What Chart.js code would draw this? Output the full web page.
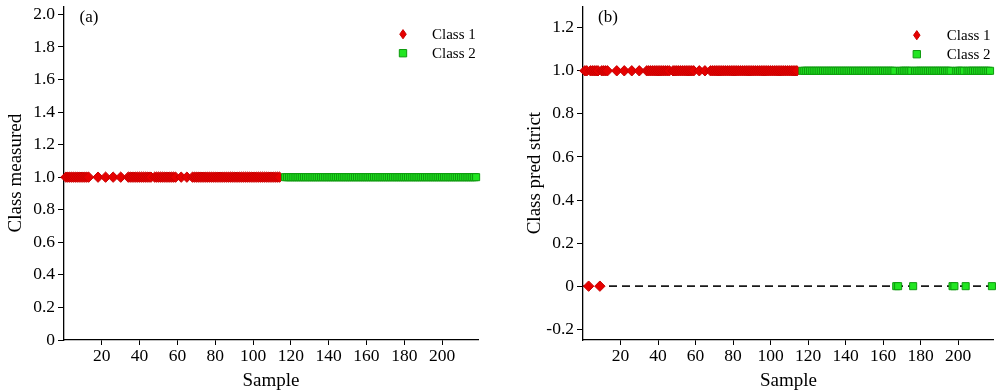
<!DOCTYPE html>
<html>
<head>
<meta charset="utf-8">
<script src="https://cdn.jsdelivr.net/npm/chart.js@4.4.1/dist/chart.umd.min.js"></script>
<style>
  html, body { margin: 0; padding: 0; background: #fff; }
  #wrap { display: flex; width: 1000px; height: 392px; }
  canvas { display: block; }
</style>
</head>
<body>
<div id="wrap">
  <canvas id="chartA" width="500" height="392"></canvas>
  <canvas id="chartB" width="500" height="392"></canvas>
</div>
<script>
// sample numbers of each class
const class1Samples = [
  1, 2, 3, 4, 5, 6, 7, 8, 9, 10, 11, 12, 13,
  18, 22, 26, 30,
  34, 35, 36, 37, 38, 39, 40, 41, 42, 43, 44, 45, 46,
  48, 49, 50, 51, 52, 53, 54, 55, 56, 57, 58, 59,
  62, 65,
  68, 69, 70, 71, 72, 73, 74, 75, 76, 77, 78, 79, 80, 81, 82, 83, 84, 85, 86, 87,
  88, 89, 90, 91, 92, 93, 94, 95, 96, 97, 98, 99, 100, 101, 102, 103, 104, 105,
  106, 107, 108, 109, 110, 111, 112, 113, 114
];
const class2Samples = [
  117, 118, 119, 120, 121, 122, 123, 124, 125, 126, 127, 128, 129, 130,
  131, 132, 133, 134, 135, 136, 137, 138, 139, 140, 141, 142, 143, 144, 145, 146,
  147, 148, 149, 150, 151, 152, 153, 154, 155, 156, 157, 158, 159, 160, 161, 162,
  163, 164, 165, 166, 167, 168, 169, 170, 171, 172, 173, 174, 175, 176, 177, 178,
  179, 180, 181, 182, 183, 184, 185, 186, 187, 188, 189, 190, 191, 192, 193, 194,
  195, 196, 197, 198, 199, 200, 201, 202, 203, 204, 205, 206, 207, 208, 209, 210,
  211, 212, 213, 214, 215, 216, 217, 218
];
// measured class value plotted for every sample in panel (a)
const measuredValue = 1;
// samples whose strict prediction is 0 in panel (b); all others are 1
const class1PredZero = [3, 9];
const class2PredZero = [167, 168, 176, 197, 198, 204, 218];

const xRange = [0, 219];
const xTickValues = [20, 40, 60, 80, 100, 120, 140, 160, 180, 200];
const leftYRange = [0, 2.05];
const leftYTicks = [0, 0.2, 0.4, 0.6, 0.8, 1.0, 1.2, 1.4, 1.6, 1.8, 2.0];
const leftYLabels = ['0', '0.2', '0.4', '0.6', '0.8', '1.0', '1.2', '1.4', '1.6', '1.8', '2.0'];
const rightYRange = [-0.25, 1.3];
const rightYTicks = [-0.2, 0, 0.2, 0.4, 0.6, 0.8, 1.0, 1.2];
const rightYLabels = ['-0.2', '0', '0.2', '0.4', '0.6', '0.8', '1.0', '1.2'];

const serif = "'Liberation Serif', 'Times New Roman', serif";
const red = { bg: '#e60000', border: '#c80000' };
const green = { bg: '#22e622', border: '#0f9a0f' };

function measuredPoints(samples) {
  return samples.map(s => ({ x: s, y: measuredValue }));
}

function predictedPoints(samples, zeros) {
  return samples.map(s => ({ x: s, y: zeros.includes(s) ? 0 : 1 }));
}

const insideLegend = {
  id: 'insideLegend',
  afterDraw(chart, args, opts) {
    const ctx = chart.ctx;
    const area = chart.chartArea;
    ctx.save();
    // panel letter
    ctx.fillStyle = '#000';
    ctx.font = '17px ' + serif;
    ctx.textAlign = 'center';
    ctx.textBaseline = 'middle';
    ctx.fillText(opts.panel, area.left + 25, 18);
    // legend rows
    ctx.font = '15px ' + serif;
    ctx.textAlign = 'left';
    let row = 0;
    chart.data.datasets.forEach(ds => {
      if (!ds.inLegend) return;
      const y = area.top + opts.top + row * 19;
      const mx = area.right - opts.markRight;
      ctx.fillStyle = ds.backgroundColor;
      ctx.strokeStyle = ds.borderColor;
      ctx.lineWidth = 1;
      const style = {
        pointStyle: ds.pointStyle,
        radius: ds.legendRadius,
        borderWidth: 1,
        rotation: 0
      };
      Chart.helpers.drawPointLegend(ctx, style, mx, y, ds.legendWidth);
      ctx.fillStyle = '#000';
      ctx.fillText(ds.label, area.right - opts.textRight, y + 1);
      row++;
    });
    ctx.restore();
  }
};

function xScale() {
  return {
    type: 'linear',
    min: xRange[0],
    max: xRange[1],
    afterBuildTicks(scale) { scale.ticks = xTickValues.map(v => ({ value: v })); },
    afterFit(scale) {
      scale.height = 52;
      scale.paddingLeft = 0;
      scale.paddingRight = 0;
    },
    border: { display: true, color: '#000', width: 1.3 },
    grid: { display: true, drawOnChartArea: false, drawTicks: true, tickLength: 5, color: '#000', lineWidth: 1 },
    ticks: { color: '#000', font: { family: serif, size: 17.5 }, padding: 1, maxRotation: 0, autoSkip: false },
    title: { display: true, text: 'Sample', color: '#000', font: { family: serif, size: 19 }, padding: { top: 0, bottom: 0 } }
  };
}

function yScale(range, ticks, labels, title) {
  return {
    type: 'linear',
    min: range[0],
    max: range[1],
    afterBuildTicks(scale) { scale.ticks = ticks.map(v => ({ value: v })); },
    afterFit(scale) {
      scale.width = 64;
      scale.paddingTop = 0;
      scale.paddingBottom = 0;
    },
    border: { display: true, color: '#000', width: 1.3 },
    grid: { display: true, drawOnChartArea: false, drawTicks: true, tickLength: 6, color: '#000', lineWidth: 1 },
    ticks: {
      color: '#000',
      font: { family: serif, size: 17.5 },
      padding: 3,
      autoSkip: false,
      callback(value) {
        const i = ticks.findIndex(t => Math.abs(t - value) < 1e-9);
        return i >= 0 ? labels[i] : '';
      }
    },
    title: { display: true, text: title, color: '#000', font: { family: serif, size: 19 }, padding: { top: 5, bottom: 0 } }
  };
}

function markerSet(label, points, colors, style, order) {
  const isRect = style === 'rect';
  return {
    type: 'scatter',
    label: label,
    data: points,
    pointStyle: style,
    pointRadius: isRect ? 5 : 5.2,
    pointHoverRadius: isRect ? 5 : 5.2,
    pointBorderWidth: 1,
    backgroundColor: colors.bg,
    borderColor: colors.border,
    inLegend: true,
    legendRadius: isRect ? 5.2 : 4.6,
    legendWidth: isRect ? undefined : 6.5,
    order: order,
    clip: false
  };
}

const commonOptions = {
  responsive: false,
  animation: false,
  events: [],
  plugins: { legend: { display: false }, tooltip: { enabled: false } }
};

// panel (a)
new Chart(document.getElementById('chartA'), {
  type: 'scatter',
  data: {
    datasets: [
      markerSet('Class 1', measuredPoints(class1Samples), red, 'rectRot', 1),
      markerSet('Class 2', measuredPoints(class2Samples), green, 'rect', 0)
    ]
  },
  options: {
    ...commonOptions,
    layout: { padding: { left: 0, right: 22, top: 3, bottom: 0 } },
    scales: {
      x: xScale(),
      y: yScale(leftYRange, leftYTicks, leftYLabels, 'Class measured')
    },
    plugins: {
      ...commonOptions.plugins,
      insideLegend: { panel: '(a)', top: 28, markRight: 75, textRight: 46 }
    }
  },
  plugins: [insideLegend]
});

// panel (b)
new Chart(document.getElementById('chartB'), {
  type: 'scatter',
  data: {
    datasets: [
      markerSet('Class 1', predictedPoints(class1Samples, class1PredZero), red, 'rectRot', 1),
      markerSet('Class 2', predictedPoints(class2Samples, class2PredZero), green, 'rect', 0),
      {
        type: 'line',
        label: 'zero',
        data: xRange.map(x => ({ x: x, y: 0 })),
        borderColor: '#1a1a1a',
        borderWidth: 1.6,
        borderDash: [8, 5],
        pointRadius: 0,
        fill: false,
        order: 2
      }
    ]
  },
  options: {
    ...commonOptions,
    layout: { padding: { left: 19, right: 3, top: 2, bottom: 0 } },
    scales: {
      x: xScale(),
      y: yScale(rightYRange, rightYTicks, rightYLabels, 'Class pred strict')
    },
    plugins: {
      ...commonOptions.plugins,
      insideLegend: { panel: '(b)', top: 29, markRight: 77, textRight: 47 }
    }
  },
  plugins: [insideLegend]
});
</script>
</body>
</html>
